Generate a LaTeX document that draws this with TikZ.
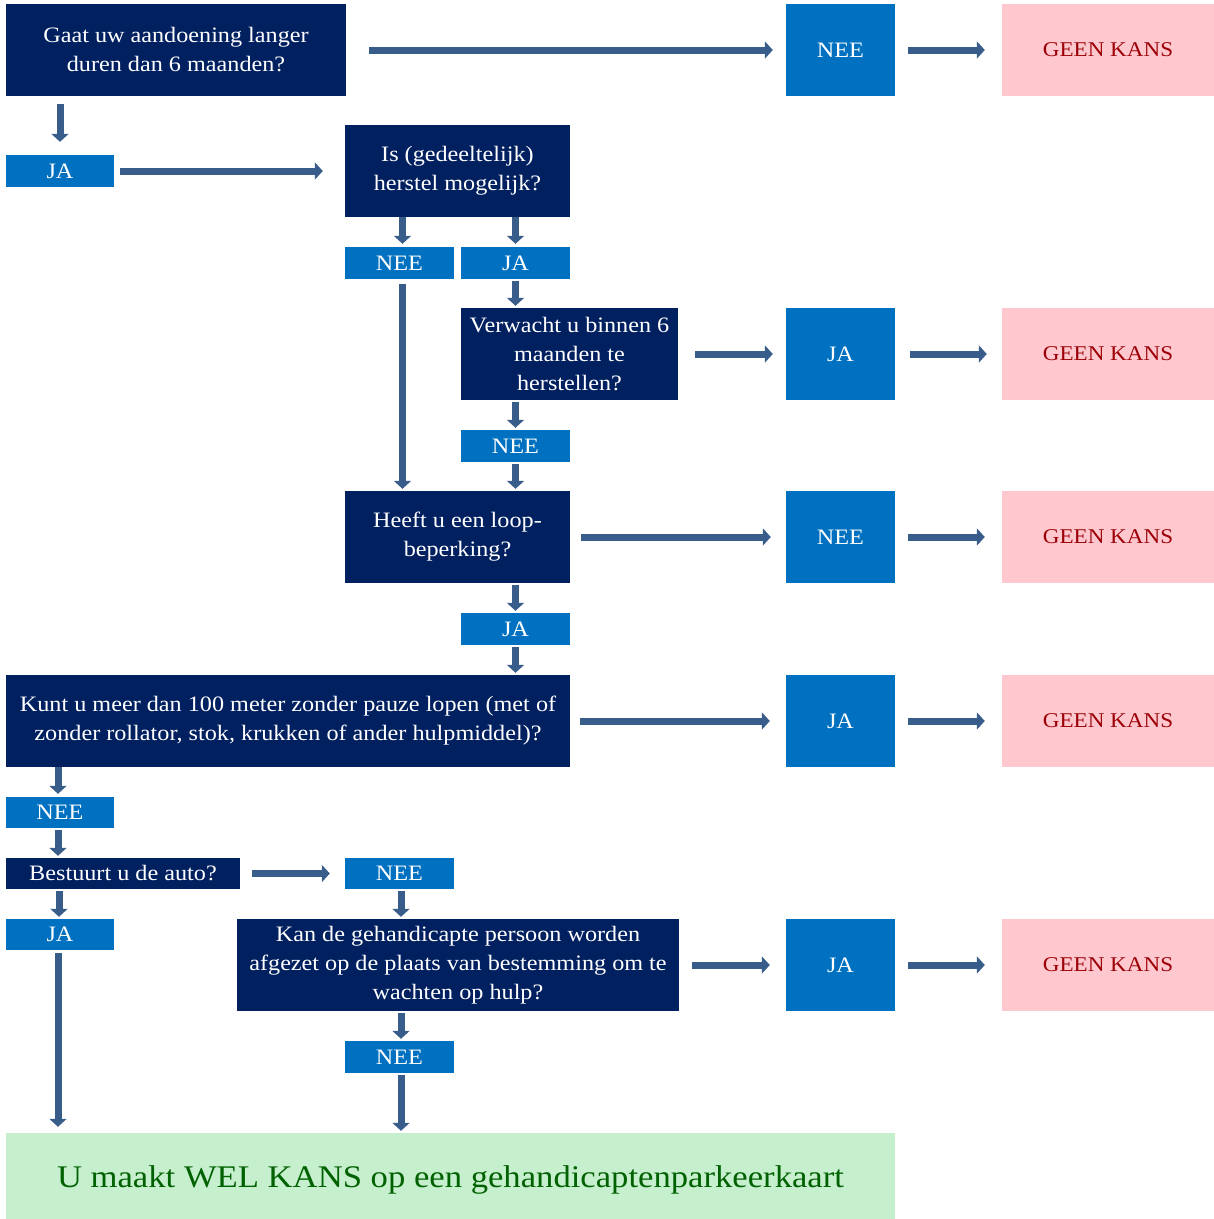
\documentclass[tikz,border=0pt]{standalone}
\usepackage{fontspec}
\setmainfont[FakeStretch=1.1]{Liberation Serif}
\usetikzlibrary{arrows.meta}
\definecolor{navy}{HTML}{002060}
\definecolor{bblue}{HTML}{0070C0}
\definecolor{pinkf}{HTML}{FFC7CE}
\definecolor{redt}{HTML}{9C0006}
\definecolor{greenf}{HTML}{C6EFCE}
\definecolor{greent}{HTML}{006100}
\definecolor{arrc}{HTML}{385D8A}
\tikzset{
  base/.style={rectangle, inner sep=0pt, align=center, font=\fontsize{22}{29}\selectfont},
  qbox/.style={base, fill=navy, text=white},
  ansbox/.style={base, fill=bblue, text=white, minimum width=109pt},
  nokans/.style={base, fill=pinkf, text=redt, minimum width=212pt, minimum height=92pt, font=\fontsize{21}{29}\selectfont},
  arr/.style={draw=arrc, line width=7pt, -{Triangle[length=8pt,width=17pt]}},
}
\begin{document}
\begin{tikzpicture}[x=1pt,y=-1pt]
\useasboundingbox (0,0) rectangle (1214,1219);
% row 1
\node[qbox, minimum width=340pt, minimum height=92pt] (q1) at (176,50) {Gaat uw aandoening langer\\duren dan 6 maanden?};
\node[ansbox, minimum height=92pt] (n1) at (840.5,50) {NEE};
\node[nokans] (g1) at (1108,50) {GEEN KANS};
\node[ansbox, minimum width=108pt, minimum height=32pt] (ja1) at (60,171) {JA};
\node[qbox, minimum width=225pt, minimum height=92pt] (q2) at (457.5,171) {Is (gedeeltelijk)\\herstel mogelijk?};
\node[ansbox, minimum height=32pt] (nee2) at (399.5,263) {NEE};
\node[ansbox, minimum height=32pt] (ja2) at (515.5,263) {JA};
\node[qbox, minimum width=217pt, minimum height=92pt] (q3) at (569.5,354) {Verwacht u binnen 6\\maanden te\\herstellen?};
\node[ansbox, minimum height=92pt] (ja3) at (840.5,354) {JA};
\node[nokans] (g2) at (1108,354) {GEEN KANS};
\node[ansbox, minimum height=32pt] (nee3) at (515.5,446) {NEE};
\node[qbox, minimum width=225pt, minimum height=92pt] (q4) at (457.5,537) {Heeft u een loop-\\beperking?};
\node[ansbox, minimum height=92pt] (n4) at (840.5,537) {NEE};
\node[nokans] (g3) at (1108,537) {GEEN KANS};
\node[ansbox, minimum height=32pt] (ja4) at (515.5,629) {JA};
\node[qbox, minimum width=564pt, minimum height=92pt] (q5) at (288,721) {Kunt u meer dan 100 meter zonder pauze lopen (met of\\zonder rollator, stok, krukken of ander hulpmiddel)?};
\node[ansbox, minimum height=92pt] (ja5) at (840.5,721) {JA};
\node[nokans] (g4) at (1108,721) {GEEN KANS};
\node[ansbox, minimum width=108pt, minimum height=31pt] (nee5) at (60,812.5) {NEE};
\node[qbox, minimum width=234pt, minimum height=31pt] (q6) at (123,873.5) {Bestuurt u de auto?};
\node[ansbox, minimum height=31pt] (nee6) at (399.5,873.5) {NEE};
\node[ansbox, minimum width=108pt, minimum height=31pt] (ja6) at (60,934.5) {JA};
\node[qbox, minimum width=442pt, minimum height=92pt] (q7) at (458,965) {Kan de gehandicapte persoon worden\\afgezet op de plaats van bestemming om te\\wachten op hulp?};
\node[ansbox, minimum height=92pt] (ja7) at (840.5,965) {JA};
\node[nokans] (g5) at (1108,965) {GEEN KANS};
\node[ansbox, minimum height=32pt] (nee7) at (399.5,1057) {NEE};
\node[base, fill=greenf, text=greent, minimum width=889pt, minimum height=86pt, font=\fontsize{31.5}{36}\selectfont, text height=22pt, text depth=7pt] (fin) at (450.5,1176) {\raisebox{-4pt}{U maakt WEL KANS op een gehandicaptenparkeerkaart}};
% horizontal arrows
\draw[arr] ([xshift=23pt]q1.east) -- ([xshift=-13pt]n1.west);
\draw[arr] ([xshift=13pt]n1.east) -- ([xshift=-17pt]g1.west);
\draw[arr] ([xshift=6pt]ja1.east) -- ([xshift=-22pt]ja1.east -| q2.west);
\draw[arr] ([xshift=17pt]q3.east) -- ([xshift=-13pt]ja3.west);
\draw[arr] ([xshift=15pt]ja3.east) -- ([xshift=-15pt]g2.west);
\draw[arr] ([xshift=11pt]q4.east) -- ([xshift=-15pt]n4.west);
\draw[arr] ([xshift=13pt]n4.east) -- ([xshift=-17pt]g3.west);
\draw[arr] ([xshift=10pt]q5.east) -- ([xshift=-16pt]ja5.west);
\draw[arr] ([xshift=13pt]ja5.east) -- ([xshift=-17pt]g4.west);
\draw[arr] ([xshift=12pt]q6.east) -- ([xshift=-15pt]nee6.west);
\draw[arr] ([xshift=13pt]q7.east) -- ([xshift=-16pt]ja7.west);
\draw[arr] ([xshift=13pt]ja7.east) -- ([xshift=-17pt]g5.west);
% vertical arrows
\draw[arr, shorten <=8pt, shorten >=13pt] (ja1.north |- q1.south) -- (ja1.north);
\draw[arr, shorten >=3pt] ([xshift=3pt]nee2.north |- q2.south) -- ([xshift=3pt]nee2.north);
\draw[arr, shorten >=3pt] (ja2.north |- q2.south) -- (ja2.north);
\draw[arr, shorten <=2pt, shorten >=2pt] (ja2.south) -- (ja2.south |- q3.north);
\draw[arr, shorten <=2pt, shorten >=2pt] (nee3.north |- q3.south) -- (nee3.north);
\draw[arr, shorten <=2pt, shorten >=2pt] (nee3.south) -- (nee3.south |- q4.north);
\draw[arr, shorten <=5pt, shorten >=2pt] ([xshift=3pt]nee2.south) -- ([xshift=3pt]nee2.south |- q4.north);
\draw[arr, shorten <=2pt, shorten >=2pt] (ja4.north |- q4.south) -- (ja4.north);
\draw[arr, shorten <=2pt, shorten >=2pt] (ja4.south) -- (ja4.south |- q5.north);
\draw[arr, shorten >=3pt] ([xshift=-2pt]nee5.north |- q5.south) -- ([xshift=-2pt]nee5.north);
\draw[arr, shorten <=2pt, shorten >=2pt] ([xshift=-2pt]nee5.south) -- ([xshift=-2pt]nee5.south |- q6.north);
\draw[arr, shorten <=2pt, shorten >=2pt] ([xshift=-1pt]ja6.north |- q6.south) -- ([xshift=-1pt]ja6.north);
\draw[arr, shorten <=2pt, shorten >=2pt] ([xshift=1.5pt]nee6.south) -- ([xshift=1.5pt]nee6.south |- q7.north);
\draw[arr, shorten <=2pt, shorten >=2pt] ([xshift=1.5pt]nee7.north |- q7.south) -- ([xshift=1.5pt]nee7.north);
\draw[arr, shorten <=2pt, shorten >=2pt] ([xshift=1.5pt]nee7.south) -- ([xshift=1.5pt]nee7.south |- fin.north);
\draw[arr, shorten <=3pt, shorten >=6pt] ([xshift=-2pt]ja6.south) -- ([xshift=-2pt]ja6.south |- fin.north);
\end{tikzpicture}
\end{document}
